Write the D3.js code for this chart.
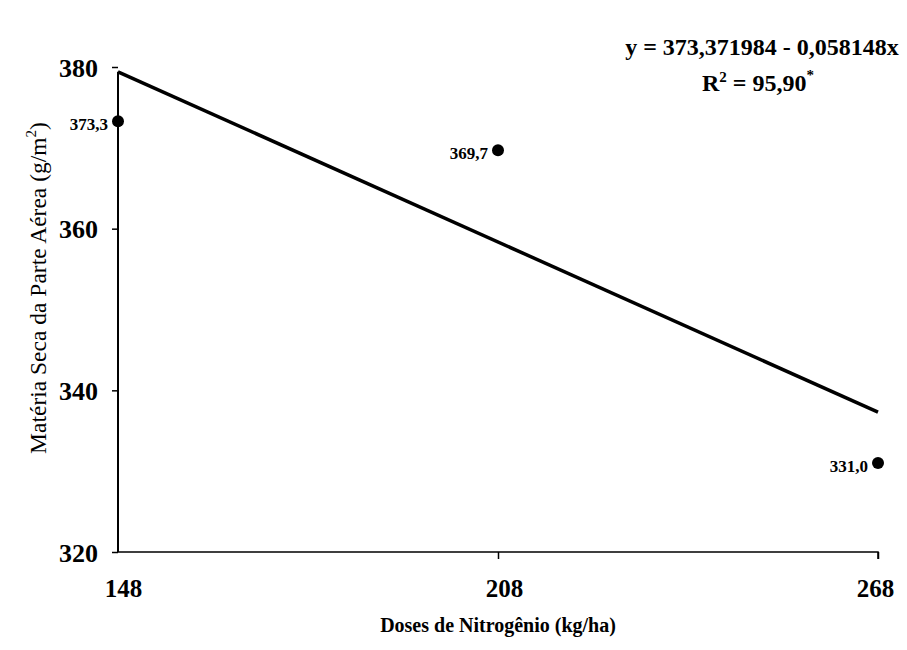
<!DOCTYPE html>
<html><head><meta charset="utf-8">
<script src="https://cdn.jsdelivr.net/npm/d3@7"></script>
<style>body{margin:0;background:#fff}svg{display:block}text{font-family:"Liberation Serif","Times New Roman",serif;fill:#000}</style>
</head><body>
<svg id="c" width="907" height="650"></svg>
<script>
const doses = [148, 208, 268];
const values = [373.3, 369.7, 331.0];
const pointLabels = ["373,3", "369,7", "331,0"];
const fitX = [148, 268];
const fitY = [379.4, 337.3];
const yTicks = [320, 340, 360, 380];
const xTicks = [148, 208, 268];
const equation = "y = 373,371984 - 0,058148x";

const svg = d3.select("#c");
const x = d3.scaleLinear().domain([148, 268]).range([118, 878]);
const y = d3.scaleLinear().domain([320, 380]).range([552, 67]);

// axes
const ya = svg.append("g").attr("transform", "translate(118,0)")
  .call(d3.axisLeft(y).tickValues(yTicks).tickSize(6).tickFormat(d3.format("d")));
ya.select(".domain").attr("stroke-width", 2).attr("d", `M0,${y(379.4)}V${y(320)}`);
ya.selectAll(".tick line").attr("stroke-width", 1.5);
ya.selectAll(".tick text").style("font-size", "26px").style("font-weight", "bold")
  .attr("dy", "0.35em").attr("x", -20);

const xa = svg.append("g").attr("transform", "translate(0,552)")
  .call(d3.axisBottom(x).tickValues(xTicks).tickSize(7).tickFormat(d3.format("d")).tickPadding(20));
xa.select(".domain").attr("stroke-width", 1.5).attr("d", `M${x(148)},0H${x(268)}V7`);
xa.selectAll(".tick line").attr("stroke-width", 1.5);
xa.selectAll(".tick").filter(d => d === 148).select("line").remove();
xa.selectAll(".tick text").style("font-size", "25px").style("font-weight", "bold").attr("dx", d => d === 148 ? 5 : (d === 208 ? 6 : -3));

// regression line
svg.append("path")
  .datum(fitX.map((d, i) => [d, fitY[i]]))
  .attr("d", d3.line().x(d => x(d[0])).y(d => y(d[1])))
  .attr("stroke", "#000").attr("stroke-width", 3.5).attr("fill", "none");

// points
svg.selectAll("circle.pt").data(doses).enter().append("circle")
  .attr("class", "pt")
  .attr("cx", d => x(d)).attr("cy", (d, i) => y(values[i]))
  .attr("r", 6).attr("fill", "#000");

svg.selectAll("text.pl").data(doses).enter().append("text")
  .attr("class", "pl")
  .attr("x", d => x(d) - 10).attr("y", (d, i) => y(values[i]) + 9)
  .attr("text-anchor", "end")
  .style("font-size", "17px").style("font-weight", "bold")
  .text((d, i) => pointLabels[i]);

// equation
svg.append("text").attr("x", 762).attr("y", 55).attr("text-anchor", "middle")
  .style("font-size", "24px").style("font-weight", "bold").text(equation);
const r2 = svg.append("text").attr("x", 758).attr("y", 91).attr("text-anchor", "middle")
  .style("font-size", "24px").style("font-weight", "bold");
r2.append("tspan").text("R");
r2.append("tspan").attr("dy", -9).style("font-size", "15px").text("2");
r2.append("tspan").attr("dy", 9).text(" = 95,90");
r2.append("tspan").attr("dy", -11).style("font-size", "15px").text("*");

// axis titles
svg.append("text").attr("x", 498).attr("y", 632).attr("text-anchor", "middle")
  .style("font-size", "20px").style("font-weight", "bold").text("Doses de Nitrogênio (kg/ha)");
const yt = svg.append("text").attr("transform", "translate(46,288) rotate(-90)")
  .attr("text-anchor", "middle").style("font-size", "23.5px");
yt.append("tspan").text("Matéria Seca da Parte Aérea (g/m");
yt.append("tspan").attr("dy", -10).style("font-size", "15px").text("2");
yt.append("tspan").attr("dy", 10).text(")");
</script>
</body></html>
